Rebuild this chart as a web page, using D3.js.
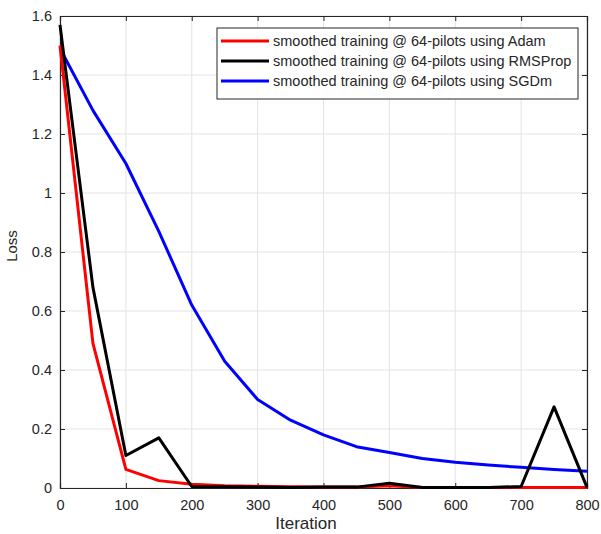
<!DOCTYPE html>
<html>
<head>
<meta charset="utf-8">
<script src="https://cdn.jsdelivr.net/npm/d3@7"></script>
<style>
  body { margin: 0; background: #fff; }
  text { font-family: "Liberation Sans", Arial, sans-serif; }
</style>
</head>
<body>
<svg id="chart" width="601" height="534"></svg>
<script>
// iterations sampled every 50
const iterations = [0, 50, 100, 150, 200, 250, 300, 350, 400, 450, 500, 550, 600, 650, 700, 750, 800];
const adam    = [1.50, 0.49, 0.063, 0.025, 0.013, 0.008, 0.006, 0.004, 0.003, 0.003, 0.008, 0.002, 0.002, 0.002, 0.002, 0.002, 0.002];
const rmsprop = [1.57, 0.68, 0.11, 0.17, 0.005, 0.004, 0.003, 0.002, 0.003, 0.003, 0.016, 0.002, 0.002, 0.002, 0.005, 0.275, 0.002];
const sgdm    = [1.49, 1.28, 1.10, 0.87, 0.62, 0.43, 0.30, 0.23, 0.18, 0.14, 0.12, 0.10, 0.087, 0.078, 0.07, 0.063, 0.057];
const seriesNames = [
  "smoothed training @ 64-pilots using Adam",
  "smoothed training @ 64-pilots using RMSProp",
  "smoothed training @ 64-pilots using SGDm"
];
const seriesColors = ["#ff0000", "#000000", "#0000ff"];
const xTicks = [0, 100, 200, 300, 400, 500, 600, 700, 800];
const yTicks = [0, 0.2, 0.4, 0.6, 0.8, 1, 1.2, 1.4, 1.6];

const svg = d3.select("#chart");
const plot = { left: 60, right: 587, top: 16, bottom: 488 };
const axisCol = "#262626";

const x = d3.scaleLinear().domain([0, 800]).range([plot.left, plot.right]);
const y = d3.scaleLinear().domain([0, 1.6]).range([plot.bottom, plot.top]);

// grid
svg.append("g").selectAll("line").data(xTicks).enter().append("line")
  .attr("x1", d => x(d)).attr("x2", d => x(d))
  .attr("y1", plot.top).attr("y2", plot.bottom)
  .attr("stroke", "#e3e3e3").attr("stroke-width", 1);
svg.append("g").selectAll("line").data(yTicks).enter().append("line")
  .attr("y1", d => y(d)).attr("y2", d => y(d))
  .attr("x1", plot.left).attr("x2", plot.right)
  .attr("stroke", "#e3e3e3").attr("stroke-width", 1);

// axes with inward ticks
const xAxis = svg.append("g").attr("transform", `translate(0,${plot.bottom})`)
  .call(d3.axisBottom(x).tickValues(xTicks).tickSize(-5).tickPadding(12).tickFormat(d3.format("d")));
const yAxis = svg.append("g").attr("transform", `translate(${plot.left},0)`)
  .call(d3.axisLeft(y).tickValues(yTicks).tickSize(-5).tickPadding(8).tickFormat(d => d3.format("~g")(d)));
// top & right (ticks only)
const xTop = svg.append("g").attr("transform", `translate(0,${plot.top})`)
  .call(d3.axisTop(x).tickValues(xTicks).tickSize(-5).tickFormat(""));
const yRight = svg.append("g").attr("transform", `translate(${plot.right},0)`)
  .call(d3.axisRight(y).tickValues(yTicks).tickSize(-5).tickFormat(""));

[xAxis, yAxis, xTop, yRight].forEach(g => {
  g.selectAll("path.domain").attr("stroke", axisCol).attr("stroke-width", 1.2);
  g.selectAll(".tick line").attr("stroke", axisCol);
  g.selectAll(".tick text").attr("fill", axisCol).style("font-size", "14.5px")
    .style("font-family", '"Liberation Sans", Arial, sans-serif');
});

// lines
const allSeries = [adam, rmsprop, sgdm];
const line = d3.line().x((d, i) => x(iterations[i])).y(d => y(d));
svg.append("g").selectAll("path").data([sgdm, adam, rmsprop]).enter().append("path")
  .attr("d", d => line(d))
  .attr("fill", "none")
  .attr("stroke", d => seriesColors[allSeries.indexOf(d)])
  .attr("stroke-width", 3)
  .attr("stroke-linejoin", "round");

// axis labels
svg.append("text").attr("x", 306).attr("y", 529)
  .attr("text-anchor", "middle").attr("fill", axisCol).style("font-size", "17px").text("Iteration");
svg.append("text").attr("transform", "translate(17,246) rotate(-90)")
  .attr("text-anchor", "middle").attr("fill", axisCol).style("font-size", "15px").text("Loss");

// legend
const lg = svg.append("g").attr("transform", "translate(217,28)");
lg.append("rect").attr("width", 361).attr("height", 71)
  .attr("fill", "#fff").attr("stroke", axisCol).attr("stroke-width", 1);
seriesNames.forEach((name, i) => {
  const yy = 13 + i * 20;
  lg.append("line").attr("x1", 4).attr("x2", 52).attr("y1", yy).attr("y2", yy)
    .attr("stroke", seriesColors[i]).attr("stroke-width", 3);
  lg.append("text").attr("x", 56).attr("y", yy + 5)
    .attr("fill", axisCol).style("font-size", "14.5px").text(name);
});
</script>
</body>
</html>
